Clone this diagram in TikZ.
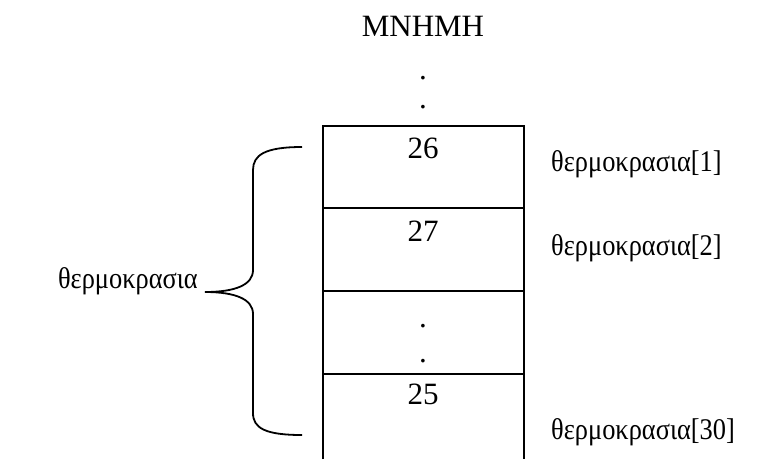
\documentclass[tikz,border=0pt]{standalone}
\usepackage{fontspec}
\setmainfont{Liberation Serif}
\newcommand{\narrowtxt}[1]{\scalebox{0.88}[1]{#1}}
\begin{document}
\begin{tikzpicture}[x=1pt,y=-1pt,
  lbl/.style={font=\fontsize{31}{33}\selectfont, inner sep=0pt},
  glbl/.style={font=\fontsize{30}{32}\selectfont, inner sep=0pt},
  cellline/.style={line width=1.8pt},
  bracestyle/.style={line width=1.8pt}]
\useasboundingbox (0,0) rectangle (773,459);
% title and dots
\node[lbl, anchor=base] (title) at (423,36) {MNHMH};
\node[lbl, anchor=base] (d1) at (423,79) {.};
\node[lbl, anchor=base] (d2) at (423,108) {.};
% memory box
\coordinate (tl) at (323,126);
\coordinate (tr) at (524,126);
\coordinate (bl) at (323,459);
\coordinate (br) at (524,459);
\draw[cellline] (bl) -- (tl) -- (tr) -- (br);
\draw[cellline] (323,208) -- (524,208);
\draw[cellline] (323,291) -- (524,291);
\draw[cellline] (323,374) -- (524,374);
% cell contents
\node[lbl, anchor=base] (c1) at (423,158) {26};
\node[lbl, anchor=base] (c2) at (423,241) {27};
\node[lbl, anchor=base] (c3a) at (423,327) {.};
\node[lbl, anchor=base] (c3b) at (423,362) {.};
\node[lbl, anchor=base] (c4) at (423,404) {25};
% right labels
\node[glbl, anchor=base west] (r1) at (551,171) {\narrowtxt{θερμοκρασια[1]}};
\node[glbl, anchor=base west] (r2) at (551,255) {\narrowtxt{θερμοκρασια[2]}};
\node[glbl, anchor=base west] (r30) at (551,439) {\narrowtxt{θερμοκρασια[30]}};
% left label and brace
\node[glbl, anchor=base east] (left) at (198,288) {\narrowtxt{θερμοκρασια}};
\coordinate (btop) at (302,147);
\coordinate (btip) at (205,292);
\coordinate (bbot) at (302,435);
\draw[bracestyle] (btop) .. controls (265,147) and (253,155) .. (253,170)
  -- (253,270) .. controls (253,285) and (235,292) .. (btip)
  .. controls (235,292) and (253,299) .. (253,314)
  -- (253,413) .. controls (253,428) and (265,435) .. (bbot);
\end{tikzpicture}
\end{document}
